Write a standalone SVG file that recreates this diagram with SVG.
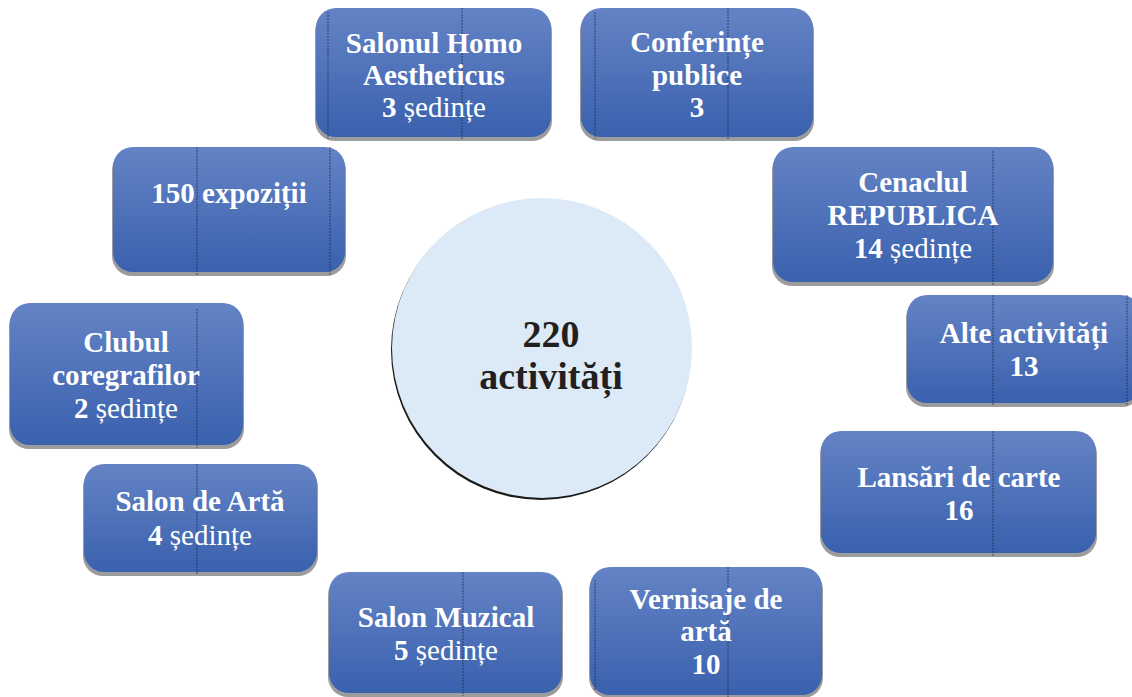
<svg xmlns="http://www.w3.org/2000/svg" width="1132" height="697" viewBox="0 0 1132 697">
<defs>
<linearGradient id="boxGrad" x1="0" y1="0" x2="0" y2="1">
<stop offset="0" stop-color="#6483c5"/>
<stop offset="1" stop-color="#3a61ae"/>
</linearGradient>
</defs>
<style>
.shadow{fill:#9c9c9c}
.box{fill:url(#boxGrad)}
.guide{stroke:#1f2b4a;stroke-width:1;stroke-dasharray:2 1;opacity:0.75}
.lbl{font-family:"Liberation Serif","Times New Roman",serif;font-size:29px;font-weight:bold;fill:#ffffff;text-anchor:middle}
.reg{font-weight:normal}
.center{font-family:"Liberation Serif","Times New Roman",serif;font-size:38px;font-weight:bold;fill:#231f20;text-anchor:middle}
</style>
<rect width="1132" height="697" fill="#ffffff"/>
<g id="connectors"/>
<g id="node-center">
<circle cx="541" cy="350" r="150" fill="#1a1a1a"/>
<circle cx="542" cy="348" r="150" fill="#dbeaf6"/>
<text class="center" x="551" y="347">220</text>
<text class="center" x="551" y="389">activități</text>
</g>
<g id="node-homo">
<rect class="shadow" x="315" y="11" width="237" height="130" rx="20"/>
<rect class="box" x="316" y="8" width="235" height="129" rx="20"/>
<line class="guide" x1="328" y1="12" x2="328" y2="139"/>
<line class="guide" x1="462" y1="8" x2="462" y2="140"/>
<text class="lbl" x="434" y="53">Salonul Homo</text>
<text class="lbl" x="434" y="85">Aestheticus</text>
<text class="lbl" x="434" y="117">3 <tspan class="reg">ședințe</tspan></text>
</g>
<g id="node-conferinte">
<rect class="shadow" x="580" y="11" width="234" height="130" rx="20"/>
<rect class="box" x="581" y="8" width="232" height="129" rx="20"/>
<line class="guide" x1="595" y1="12" x2="595" y2="139"/>
<line class="guide" x1="728" y1="8" x2="728" y2="140"/>
<text class="lbl" x="697" y="52">Conferințe</text>
<text class="lbl" x="697" y="85">publice</text>
<text class="lbl" x="697" y="117">3</text>
</g>
<g id="node-expozitii">
<rect class="shadow" x="112" y="150" width="234" height="126" rx="20"/>
<rect class="box" x="113" y="147" width="232" height="125" rx="20"/>
<line class="guide" x1="197" y1="147" x2="197" y2="275"/>
<line class="guide" x1="330" y1="147" x2="330" y2="275"/>
<text class="lbl" x="229" y="203">150 expoziții</text>
</g>
<g id="node-cenaclul">
<rect class="shadow" x="772" y="150" width="282" height="136" rx="20"/>
<rect class="box" x="773" y="147" width="280" height="135" rx="20"/>
<line class="guide" x1="993" y1="151" x2="993" y2="285"/>
<text class="lbl" x="913" y="192">Cenaclul</text>
<text class="lbl" x="913" y="225">REPUBLICA</text>
<text class="lbl" x="913" y="258">14 <tspan class="reg">ședințe</tspan></text>
</g>
<g id="node-clubul">
<rect class="shadow" x="9" y="306" width="235" height="143" rx="20"/>
<rect class="box" x="10" y="303" width="233" height="142" rx="20"/>
<line class="guide" x1="197" y1="309" x2="197" y2="448"/>
<text class="lbl" x="126" y="352">Clubul</text>
<text class="lbl" x="126" y="385">coregrafilor</text>
<text class="lbl" x="126" y="418">2 <tspan class="reg">ședințe</tspan></text>
</g>
<g id="node-alte">
<rect class="shadow" x="906" y="298" width="236" height="109" rx="20"/>
<rect class="box" x="907" y="295" width="234" height="108" rx="20"/>
<line class="guide" x1="993" y1="295" x2="993" y2="406"/>
<line class="guide" x1="1127" y1="295" x2="1127" y2="406"/>
<text class="lbl" x="1024" y="343">Alte activități</text>
<text class="lbl" x="1024" y="376">13</text>
</g>
<g id="node-salon-arta">
<rect class="shadow" x="83" y="467" width="235" height="109" rx="20"/>
<rect class="box" x="84" y="464" width="233" height="108" rx="20"/>
<line class="guide" x1="197" y1="464" x2="197" y2="575"/>
<text class="lbl" x="200" y="511">Salon de Artă</text>
<text class="lbl" x="200" y="545">4 <tspan class="reg">ședințe</tspan></text>
</g>
<g id="node-lansari">
<rect class="shadow" x="820" y="434" width="277" height="123" rx="20"/>
<rect class="box" x="821" y="431" width="275" height="122" rx="20"/>
<line class="guide" x1="993" y1="431" x2="993" y2="556"/>
<text class="lbl" x="959" y="487">Lansări de carte</text>
<text class="lbl" x="959" y="520">16</text>
</g>
<g id="node-salon-muzical">
<rect class="shadow" x="328" y="575" width="235" height="122" rx="20"/>
<rect class="box" x="329" y="572" width="233" height="121" rx="20"/>
<line class="guide" x1="463" y1="572" x2="463" y2="696"/>
<text class="lbl" x="446" y="627">Salon Muzical</text>
<text class="lbl" x="446" y="660">5 <tspan class="reg">ședințe</tspan></text>
</g>
<g id="node-vernisaje">
<rect class="shadow" x="589" y="570" width="234" height="128" rx="20"/>
<rect class="box" x="590" y="567" width="232" height="128" rx="20"/>
<line class="guide" x1="595" y1="580" x2="595" y2="690"/>
<line class="guide" x1="728" y1="567" x2="728" y2="697"/>
<text class="lbl" x="706" y="609">Vernisaje de</text>
<text class="lbl" x="706" y="641">artă</text>
<text class="lbl" x="706" y="674">10</text>
</g>
</svg>
